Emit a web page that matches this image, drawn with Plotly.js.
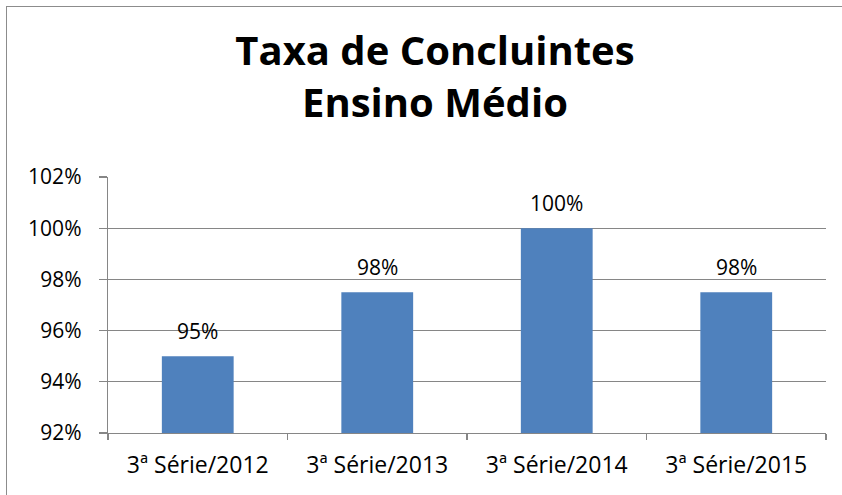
<!DOCTYPE html>
<html>
<head>
<meta charset="utf-8">
<script src="https://cdn.plot.ly/plotly-3.0.1.min.js"></script>
<style>
html,body{margin:0;padding:0;background:#fff;}
#wrap{position:relative;width:842px;height:495px;overflow:hidden;}
#chart{width:842px;height:495px;}
#frame{position:absolute;left:6px;top:6px;right:-4px;bottom:-4px;border-left:1.5px solid #8c8c8c;border-top:1.5px solid #8c8c8c;pointer-events:none;}
</style>
</head>
<body>
<div id="wrap"><div id="chart"></div><div id="frame"></div></div>
<script>
var categories = ["3ª Série/2012", "3ª Série/2013", "3ª Série/2014", "3ª Série/2015"];
var values = [95, 97.5, 100, 97.5];
var valueLabels = ["95%", "98%", "100%", "98%"];
var yTicks = [92, 94, 96, 98, 100, 102];

var font = "Open Sans, Liberation Sans, sans-serif";
var trace = {
  type: "bar",
  x: categories,
  y: values,
  marker: {color: "#4F81BD"},
  hoverinfo: "none"
};
var annotations = categories.map(function(c, i){
  return {x: c, y: values[i], xref: "x", yref: "y", text: valueLabels[i], showarrow: false,
    yanchor: "middle", yshift: 25, font: {family: font, size: 21, color: "#000"}};
});
var layout = {
  width: 842, height: 495,
  margin: {l: 108, r: 16, t: 177, b: 62},
  paper_bgcolor: "#fff", plot_bgcolor: "#fff",
  bargap: 0.6,
  showlegend: false,
  title: {text: "<b>Taxa de Concluintes<br>Ensino Médio</b>", x: 0.5166, xanchor: "center", xref: "container",
    y: 0.868, yanchor: "top", yref: "container",
    font: {family: font, size: 40, color: "#000"}},
  xaxis: {type: "category", showline: true, linecolor: "#868686", linewidth: 1.3,
    ticks: "outside", tickson: "boundaries", ticklen: 6, tickcolor: "#868686", tickwidth: 1.3,
    tickfont: {family: font, size: 23, color: "#000"}, showgrid: false, fixedrange: true,
    ticklabelstandoff: 11},
  yaxis: {range: [92, 102], tickvals: yTicks, ticktext: yTicks.map(function(v){return v + "%";}),
    showline: true, linecolor: "#868686", linewidth: 1.3,
    ticks: "outside", ticklen: 8, tickcolor: "#868686", tickwidth: 1.3,
    showgrid: true, gridcolor: "#868686", gridwidth: 1.3, zeroline: false,
    tickfont: {family: font, size: 21, color: "#000"}, ticklabelstandoff: 13, fixedrange: true},
  annotations: annotations
};
Plotly.newPlot("chart", [trace], layout, {displayModeBar: false, staticPlot: true});
</script>
</body>
</html>
